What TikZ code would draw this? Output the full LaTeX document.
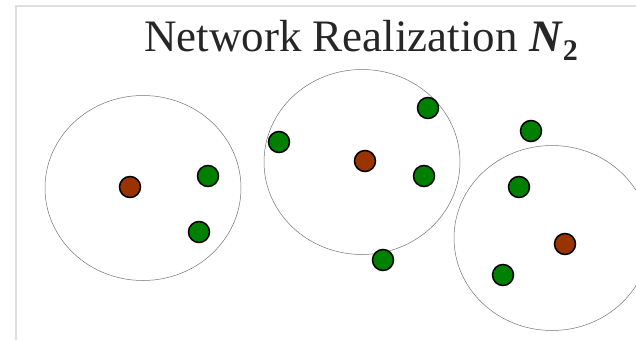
\documentclass[tikz,border=0pt]{standalone}
\usepackage{fontspec}
\setmainfont{Liberation Serif}
\usetikzlibrary{shapes.geometric}
\definecolor{headred}{RGB}{153,51,0}
\definecolor{membergreen}{RGB}{0,128,0}

\begin{document}
\begin{tikzpicture}[x=1pt, y=-1pt]
  \tikzstyle{rangebox}=[ellipse, draw=black!55, line width=0.5pt, minimum width=196pt, minimum height=185pt, inner sep=0pt]
  \tikzstyle{head}=[circle, draw=black, line width=1.5pt, fill=headred, minimum size=21pt, inner sep=0pt]
  \tikzstyle{member}=[head, fill=membergreen]
  \useasboundingbox (0,0) rectangle (636,340);
  \draw[black!13, line width=2pt] (16,340) -- (16,6) -- (636,6);
  \node[anchor=base, inner sep=0pt, text=black!85] (title) at (361,51)
    {\fontsize{45}{48}\selectfont Network Realization \textbf{\textit{N}}\raisebox{-9pt}{\fontsize{30}{30}\selectfont\bfseries 2}};
  % ranges
  \node[rangebox] (range1) at (143,188) {};
  \node[rangebox] (range2) at (362,162) {};
  \node[rangebox] (range3) at (552,238) {};
  % cluster 1
  \node[head] (head1) at (130,187) {};
  \node[member] (m1a) at (208,176) {};
  \node[member] (m1b) at (199,232) {};
  % cluster 2
  \node[head] (head2) at (365,161) {};
  \node[member] (m2a) at (279,142) {};
  \node[member] (m2b) at (428,108) {};
  \node[member] (m2c) at (424,176) {};
  \node[member] (m2d) at (383,260) {};
  % cluster 3
  \node[head] (head3) at (565,244) {};
  \node[member] (m3a) at (531,131) {};
  \node[member] (m3b) at (519,187) {};
  \node[member] (m3c) at (503,275) {};
\end{tikzpicture}
\end{document}
